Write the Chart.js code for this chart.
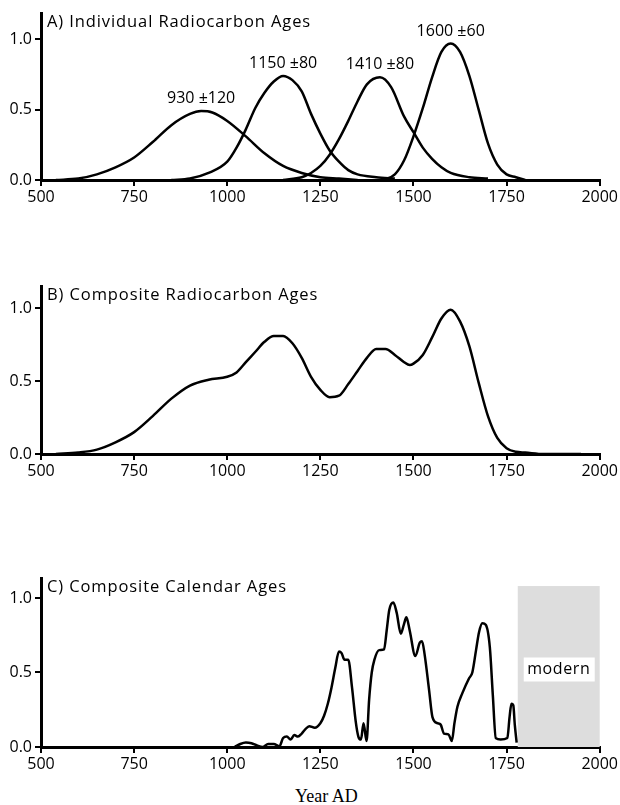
<!DOCTYPE html>
<html lang="en">
<head>
    <meta charset="UTF-8">
    <title>Radiocarbon and Calendar Ages</title>
    <script src="https://cdn.jsdelivr.net/npm/chart.js"></script>
    <style>
        body {
            margin: 0;
            background: #fff;
            width: 620px;
            height: 805px;
            position: relative;
            overflow: hidden;
        }
        canvas {
            position: absolute;
            left: 0;
        }
        #xlabel {
            position: absolute;
            left: 295px;
            top: 787px;
            font-family: 'Liberation Serif', 'Times New Roman', serif;
            font-size: 18px;
            line-height: 18px;
            color: #000;
        }
    </style>
</head>
<body>

    <canvas id="panelA" width="620" height="215" style="top:0px"></canvas>
    <canvas id="panelB" width="620" height="220" style="top:270px"></canvas>
    <canvas id="panelC" width="620" height="220" style="top:565px"></canvas>
    <div id="xlabel">Year AD</div>

    <script>
        // A) individual radiocarbon ages
        const age930Years = [540, 600, 650, 700, 750, 800, 850, 900, 930, 960, 1000, 1050, 1100, 1150, 1200, 1250, 1300, 1350];
        const age930Vals  = [0, 0.01, 0.04, 0.09, 0.16, 0.27, 0.39, 0.47, 0.49, 0.48, 0.42, 0.31, 0.19, 0.10, 0.05, 0.02, 0.01, 0];

        const age1150Years = [850, 900, 950, 1000, 1025, 1050, 1075, 1100, 1125, 1150, 1175, 1200, 1225, 1250, 1275, 1300, 1325, 1350, 1400, 1450];
        const age1150Vals  = [0, 0.01, 0.05, 0.13, 0.23, 0.36, 0.51, 0.62, 0.70, 0.74, 0.71, 0.63, 0.47, 0.33, 0.21, 0.13, 0.07, 0.04, 0.02, 0.01];

        const age1410Years = [1150, 1200, 1225, 1250, 1275, 1300, 1325, 1350, 1375, 1410, 1440, 1475, 1500, 1525, 1550, 1575, 1600, 1650, 1700];
        const age1410Vals  = [0, 0.02, 0.05, 0.10, 0.18, 0.29, 0.42, 0.56, 0.68, 0.73, 0.66, 0.45, 0.34, 0.23, 0.15, 0.09, 0.05, 0.02, 0.01];

        const age1600Years = [1420, 1450, 1475, 1500, 1525, 1550, 1575, 1600, 1625, 1650, 1675, 1700, 1725, 1750, 1775, 1800];
        const age1600Vals  = [0, 0.04, 0.14, 0.31, 0.51, 0.73, 0.91, 0.97, 0.91, 0.74, 0.50, 0.26, 0.11, 0.04, 0.02, 0];

        const peakLabels = ['930 \u00b1120', '1150 \u00b180', '1410 \u00b180', '1600 \u00b160'];
        const peakYears  = [930, 1150, 1410, 1600];
        const peakVals   = [0.49, 0.74, 0.73, 0.97];

        // B) composite radiocarbon ages
        const compYears = [540, 600, 650, 700, 750, 800, 850, 900, 950, 1000, 1025, 1050, 1075, 1100, 1125, 1150, 1175, 1200, 1225, 1250,
                           1275, 1300, 1325, 1350, 1375, 1400, 1425, 1450, 1475, 1490, 1500, 1525, 1550, 1575, 1600, 1625, 1650, 1675,
                           1700, 1725, 1750, 1775, 1800, 1850, 1950];
        const compVals  = [0, 0.01, 0.03, 0.08, 0.15, 0.26, 0.38, 0.47, 0.51, 0.53, 0.56, 0.63, 0.70, 0.77, 0.81, 0.81, 0.76, 0.66, 0.53, 0.44,
                           0.39, 0.40, 0.48, 0.57, 0.66, 0.72, 0.72, 0.68, 0.63, 0.61, 0.62, 0.68, 0.80, 0.93, 0.99, 0.91, 0.74, 0.49,
                           0.26, 0.11, 0.04, 0.015, 0.01, 0, 0];

        // C) composite calendar ages
        const calYears = [1020, 1035, 1050, 1065, 1080, 1095, 1110, 1125, 1140, 1150, 1160, 1170, 1180, 1190, 1200, 1210, 1220, 1235, 1250, 1260,
                          1270, 1280, 1290, 1300, 1307, 1315, 1325, 1335, 1345, 1352, 1359, 1366, 1374, 1381, 1388, 1395, 1408, 1421, 1428, 1435,
                          1446, 1455, 1466, 1474, 1481, 1490, 1505, 1517, 1523, 1530, 1542, 1551, 1564, 1573, 1582, 1594, 1603, 1610, 1618, 1631,
                          1649, 1658, 1668, 1676, 1685, 1694, 1705, 1713, 1721, 1734, 1752, 1758, 1763, 1768, 1772, 1777];
        const calVals  = [0, 0.02, 0.03, 0.025, 0.01, 0, 0.02, 0.02, 0.005, 0.06, 0.07, 0.05, 0.08, 0.07, 0.09, 0.12, 0.14, 0.13, 0.16, 0.21,
                          0.29, 0.40, 0.53, 0.64, 0.63, 0.585, 0.585, 0.40, 0.17, 0.07, 0.05, 0.16, 0.04, 0.32, 0.50, 0.585, 0.65, 0.655, 0.78, 0.92,
                          0.97, 0.90, 0.76, 0.82, 0.87, 0.78, 0.61, 0.70, 0.71, 0.62, 0.38, 0.20, 0.16, 0.15, 0.09, 0.085, 0.04, 0.16, 0.27, 0.36,
                          0.46, 0.50, 0.65, 0.77, 0.83, 0.82, 0.67, 0.35, 0.06, 0.05, 0.06, 0.20, 0.29, 0.28, 0.15, 0.03];

        const modernStart = 1780;
        const modernEnd = 2000;
        const modernTop = 1.08;

        const xTicks = [500, 750, 1000, 1250, 1500, 1750, 2000];
        const yTicks = [0, 0.5, 1.0];

        Chart.defaults.font.family = "'Open Sans', sans-serif";
        Chart.defaults.font.size = 16;
        Chart.defaults.color = '#000';

        function toPoints(xs, ys) {
            return xs.map((x, i) => ({ x: x, y: ys[i] }));
        }

        function line(xs, ys) {
            return {
                data: toPoints(xs, ys),
                borderColor: '#000',
                borderWidth: 2.5,
                pointRadius: 0,
                fill: false,
                cubicInterpolationMode: 'monotone',
                clip: false
            };
        }

        // panel letter + title in the top-left corner of the plot area
        const panelTitle = {
            id: 'panelTitle',
            afterDraw(chart, args, opts) {
                const c = chart.ctx;
                c.save();
                c.font = "16.5px 'Open Sans', sans-serif";
                c.letterSpacing = '0.9px';
                c.fillStyle = '#000';
                c.textBaseline = 'alphabetic';
                c.fillText(opts.text, chart.chartArea.left + 6, chart.chartArea.top + 14);
                c.restore();
            }
        };

        const peakText = {
            id: 'peakText',
            afterDatasetsDraw(chart) {
                if (chart.canvas.id !== 'panelA') return;
                const c = chart.ctx;
                const xs = chart.scales.x, ys = chart.scales.y;
                c.save();
                c.font = "16px 'Open Sans', sans-serif";
                c.fillStyle = '#000';
                c.textAlign = 'center';
                c.textBaseline = 'alphabetic';
                peakLabels.forEach((t, i) => {
                    c.fillText(t, xs.getPixelForValue(peakYears[i]), ys.getPixelForValue(peakVals[i]) - 8);
                });
                c.restore();
            }
        };

        const modernBox = {
            id: 'modernBox',
            beforeDatasetsDraw(chart) {
                if (chart.canvas.id !== 'panelC') return;
                const c = chart.ctx;
                const xs = chart.scales.x, ys = chart.scales.y;
                const x0 = xs.getPixelForValue(modernStart), x1 = xs.getPixelForValue(modernEnd);
                const y0 = ys.getPixelForValue(modernTop), y1 = ys.getPixelForValue(0);
                c.save();
                c.fillStyle = '#dddddd';
                c.fillRect(x0, y0, x1 - x0, y1 - y0);
                const cx = (x0 + x1) / 2, cy = ys.getPixelForValue(0.52);
                c.fillStyle = '#fff';
                c.fillRect(cx - 35, cy - 12, 71, 24);
                c.font = "16px 'Open Sans', sans-serif";
                c.letterSpacing = '0.6px';
                c.fillStyle = '#000';
                c.textAlign = 'center';
                c.textBaseline = 'middle';
                c.fillText('modern', cx, cy);
                c.restore();
            }
        };

        function makePanel(id, datasets, title, yMax, padTop, xHeight) {
            return new Chart(document.getElementById(id), {
                type: 'line',
                data: { datasets: datasets },
                plugins: [panelTitle, peakText, modernBox],
                options: {
                    responsive: false,
                    animation: false,
                    devicePixelRatio: 1,
                    layout: { padding: { top: padTop, right: 19, left: 0, bottom: 0 } },
                    plugins: {
                        legend: { display: false },
                        tooltip: { enabled: false },
                        panelTitle: { text: title }
                    },
                    scales: {
                        x: {
                            type: 'linear',
                            min: 500,
                            max: 2000,
                            afterBuildTicks: s => { s.ticks = xTicks.map(v => ({ value: v })); },
                            afterFit: s => { s.height = xHeight; },
                            ticks: { padding: 2, maxRotation: 0, callback: v => String(v) },
                            grid: { drawOnChartArea: false, drawTicks: true, tickLength: 6, color: '#000', lineWidth: 2 },
                            border: { display: true, color: '#000', width: 3 }
                        },
                        y: {
                            type: 'linear',
                            min: 0,
                            max: yMax,
                            afterBuildTicks: s => { s.ticks = yTicks.map(v => ({ value: v })); },
                            afterFit: s => { s.width = 41; },
                            ticks: { padding: 3, callback: v => v.toFixed(1) },
                            grid: { drawOnChartArea: false, drawTicks: true, tickLength: 6, color: '#000', lineWidth: 2 },
                            border: { display: true, color: '#000', width: 3 }
                        }
                    }
                }
            });
        }

        makePanel('panelA', [
            line(age930Years, age930Vals),
            line(age1150Years, age1150Vals),
            line(age1410Years, age1410Vals),
            line(age1600Years, age1600Vals)
        ], 'A) Individual Radiocarbon Ages', 1.187, 13, 35);

        makePanel('panelB', [line(compYears, compVals)], 'B) Composite Radiocarbon Ages', 1.153, 16, 36);

        makePanel('panelC', [line(calYears, calVals)], 'C) Composite Calendar Ages', 1.134, 13, 38);
    </script>

</body>
</html>
